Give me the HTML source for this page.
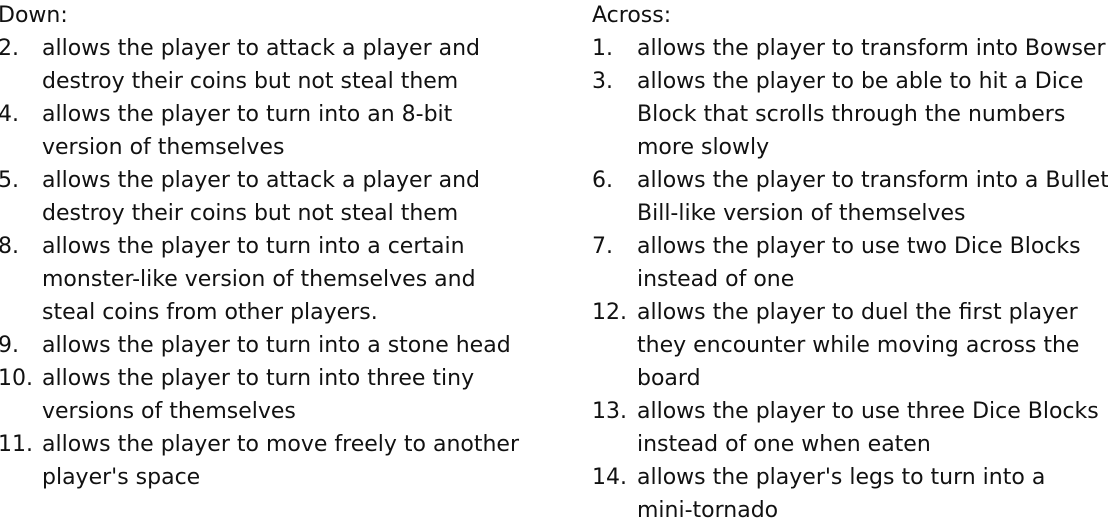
<!DOCTYPE html>
<html><head><meta charset="utf-8"><style>
html,body{margin:0;padding:0;width:1108px;height:521px;overflow:hidden;background:#fff;}
body{position:relative;font-family:"DejaVu Sans","Liberation Sans",sans-serif;font-size:22px;color:#111;}
div{position:absolute;white-space:nowrap;line-height:33px;height:33px;}
</style></head><body>
<div style="left:-2px;top:-1px">Down:</div>
<div style="left:-2px;top:32px">2.</div><div style="left:42px;top:32px">allows the player to attack a player and</div>
<div style="left:42px;top:65px">destroy their coins but not steal them</div>
<div style="left:-2px;top:98px">4.</div><div style="left:42px;top:98px">allows the player to turn into an 8-bit</div>
<div style="left:42px;top:131px">version of themselves</div>
<div style="left:-2px;top:164px">5.</div><div style="left:42px;top:164px">allows the player to attack a player and</div>
<div style="left:42px;top:197px">destroy their coins but not steal them</div>
<div style="left:-2px;top:230px">8.</div><div style="left:42px;top:230px">allows the player to turn into a certain</div>
<div style="left:42px;top:263px">monster-like version of themselves and</div>
<div style="left:42px;top:296px">steal coins from other players.</div>
<div style="left:-2px;top:329px">9.</div><div style="left:42px;top:329px">allows the player to turn into a stone head</div>
<div style="left:-2px;top:362px">10.</div><div style="left:42px;top:362px">allows the player to turn into three tiny</div>
<div style="left:42px;top:395px">versions of themselves</div>
<div style="left:-2px;top:428px">11.</div><div style="left:42px;top:428px">allows the player to move freely to another</div>
<div style="left:42px;top:461px">player's space</div>

<div style="left:592px;top:-1px">Across:</div>
<div style="left:592px;top:32px">1.</div><div style="left:637px;top:32px">allows the player to transform into Bowser</div>
<div style="left:592px;top:65px">3.</div><div style="left:637px;top:65px">allows the player to be able to hit a Dice</div>
<div style="left:637px;top:98px">Block that scrolls through the numbers</div>
<div style="left:637px;top:131px">more slowly</div>
<div style="left:592px;top:164px">6.</div><div style="left:637px;top:164px">allows the player to transform into a Bullet</div>
<div style="left:637px;top:197px">Bill-like version of themselves</div>
<div style="left:592px;top:230px">7.</div><div style="left:637px;top:230px">allows the player to use two Dice Blocks</div>
<div style="left:637px;top:263px">instead of one</div>
<div style="left:592px;top:296px">12.</div><div style="left:637px;top:296px">allows the player to duel the first player</div>
<div style="left:637px;top:329px">they encounter while moving across the</div>
<div style="left:637px;top:362px">board</div>
<div style="left:592px;top:395px">13.</div><div style="left:637px;top:395px">allows the player to use three Dice Blocks</div>
<div style="left:637px;top:428px">instead of one when eaten</div>
<div style="left:592px;top:461px">14.</div><div style="left:637px;top:461px">allows the player's legs to turn into a</div>
<div style="left:637px;top:494px">mini-tornado</div>
</body></html>
